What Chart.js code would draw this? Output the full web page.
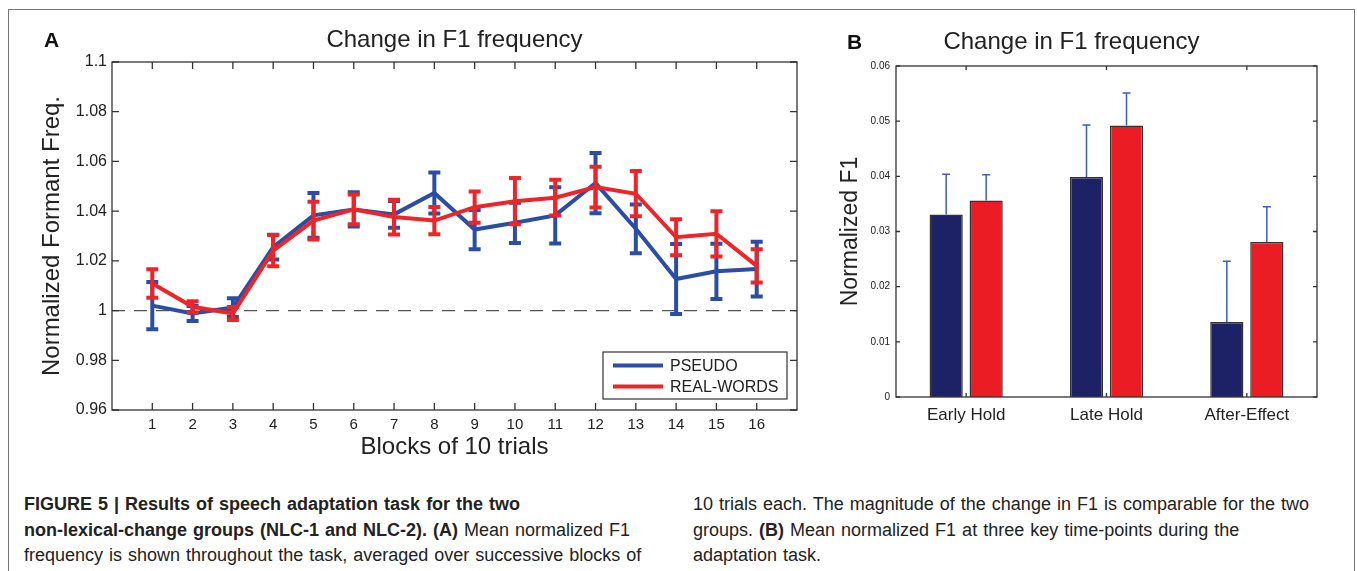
<!DOCTYPE html>
<html>
<head>
<meta charset="utf-8">
<script src="https://cdn.jsdelivr.net/npm/chart.js@4.4.0/dist/chart.umd.min.js"></script>
<style>
  body { margin: 0; background: #fff; width: 1357px; height: 571px; overflow: hidden; position: relative; font-family: "Liberation Sans", Arial, sans-serif; }
  #frame { position: absolute; left: 8px; top: 9px; width: 1347px; height: 620px; border: 1.5px solid #777; box-sizing: border-box; }
  #wrapA { position: absolute; left: 0; top: 0; width: 830px; height: 480px; }
  #wrapB { position: absolute; left: 826px; top: 0; width: 531px; height: 480px; }
  .panel { position: absolute; font-weight: bold; font-size: 21px; color: #111; }
  .cap { position: absolute; top: 492px; font-size: 18px; line-height: 25.5px; color: #222; white-space: nowrap; word-spacing: 1px; }
</style>
</head>
<body>
<div id="frame"></div>
<div id="wrapA"><canvas id="chartA"></canvas></div>
<div id="wrapB"><canvas id="chartB"></canvas></div>
<div class="panel" style="left:44px;top:28px">A</div>
<div class="panel" style="left:847px;top:30px">B</div>
<div class="cap" style="left:24px"><b>FIGURE 5 | Results of speech adaptation task for the two</b><br><b>non-lexical-change groups (NLC-1 and NLC-2). (A)</b> Mean normalized F1<br>frequency is shown throughout the task, averaged over successive blocks of</div>
<div class="cap" style="left:693px">10 trials each. The magnitude of the change in F1 is comparable for the two<br>groups. <b>(B)</b> Mean normalized F1 at three key time-points during the<br>adaptation task.</div>
<script>
// panel A: blocks of 10 trials
const blocks = [1, 2, 3, 4, 5, 6, 7, 8, 9, 10, 11, 12, 13, 14, 15, 16]
const pseudoMean = [1.002, 0.9988, 1.0012, 1.0255, 1.0383, 1.0407, 1.0387, 1.0473, 1.0326, 1.0353, 1.0383, 1.0513, 1.0329, 1.0127, 1.0158, 1.0167]
const pseudoErr = [0.0095, 0.003, 0.0038, 0.005, 0.009, 0.0069, 0.0054, 0.0082, 0.0079, 0.0081, 0.0113, 0.0121, 0.0098, 0.0141, 0.0111, 0.011]
const realMean = [1.0109, 1.0015, 0.9988, 1.0241, 1.0362, 1.0407, 1.0376, 1.0362, 1.0416, 1.044, 1.0454, 1.0497, 1.047, 1.0295, 1.0309, 1.018]
const realErr = [0.0057, 0.0023, 0.0026, 0.0063, 0.0076, 0.006, 0.007, 0.0055, 0.0063, 0.0093, 0.0072, 0.0082, 0.0091, 0.0072, 0.0091, 0.0067]
const yTicksA = [0.96, 0.98, 1, 1.02, 1.04, 1.06, 1.08, 1.1]
const baseline = 1

// panel B: three time points
const phases = ['Early Hold', 'Late Hold', 'After-Effect']
const pseudoF1 = [0.0331, 0.0399, 0.0136]
const pseudoF1Err = [0.0073, 0.0094, 0.011]
const realF1 = [0.0356, 0.0492, 0.0281]
const realF1Err = [0.0047, 0.0059, 0.0064]
const yTicksB = [0, 0.01, 0.02, 0.03, 0.04, 0.05, 0.06]

const BLUE = '#2b4ea5'
const RED = '#ee2429'
const FONT = '"Liberation Sans", Arial, sans-serif'

const pts = (vals) => vals.map((v, i) => ({x: blocks[i], y: v}))

// matlab style error bars
const errBars = {
    id: 'errBars',
    afterDatasetDraw(chart, args) {
        const ds = chart.data.datasets[args.index]
        if (!ds.err) return
        const ctx = chart.ctx
        const y = chart.scales.y
        ctx.save()
        ctx.strokeStyle = ds.errColor || ds.borderColor
        ctx.lineWidth = ds.errWidth
        ctx.lineCap = 'butt'
        args.meta.data.forEach((el, i) => {
            const v = typeof ds.data[i] === 'object' ? ds.data[i].y : ds.data[i]
            const top = y.getPixelForValue(v + ds.err[i])
            const bot = ds.upOnly ? y.getPixelForValue(v) : y.getPixelForValue(v - ds.err[i])
            const c = ds.capW / 2
            ctx.beginPath()
            ctx.moveTo(el.x, top); ctx.lineTo(el.x, bot)
            ctx.moveTo(el.x - c, top); ctx.lineTo(el.x + c, top)
            if (!ds.upOnly) { ctx.moveTo(el.x - c, bot); ctx.lineTo(el.x + c, bot) }
            ctx.stroke()
        })
        ctx.restore()
    }
}

// box round the axes with ticks pointing inwards
const boxTicks = {
    id: 'boxTicks',
    afterDraw(chart, args, opts) {
        const {ctx, chartArea: a, scales: {x, y}} = chart
        const len = opts.len || 6
        ctx.save()
        ctx.strokeStyle = '#333'
        ctx.lineWidth = 1.3
        ctx.strokeRect(a.left, a.top, a.right - a.left, a.bottom - a.top)
        ctx.beginPath()
        y.ticks.forEach((t) => {
            const py = y.getPixelForValue(t.value)
            ctx.moveTo(a.left, py); ctx.lineTo(a.left + len, py)
            ctx.moveTo(a.right, py); ctx.lineTo(a.right - len, py)
        })
        x.ticks.forEach((t, i) => {
            const px = x.getPixelForTick(i)
            ctx.moveTo(px, a.bottom); ctx.lineTo(px, a.bottom - len)
            ctx.moveTo(px, a.top); ctx.lineTo(px, a.top + len)
        })
        ctx.stroke()
        ctx.restore()
    }
}

const boxLegend = {
    id: 'boxLegend',
    afterDraw(chart) {
        const {ctx, chartArea: a} = chart
        const w = 184, h = 47
        const left = a.right - 10 - w, top = a.bottom - 11 - h
        const items = [chart.data.datasets[1], chart.data.datasets[0]]
        ctx.save()
        ctx.fillStyle = '#fff'
        ctx.fillRect(left, top, w, h)
        ctx.strokeStyle = '#333'
        ctx.lineWidth = 1.2
        ctx.strokeRect(left, top, w, h)
        ctx.font = '16px ' + FONT
        ctx.textBaseline = 'middle'
        items.forEach((ds, i) => {
            const yy = top + 13.5 + i * 21
            ctx.strokeStyle = ds.borderColor
            ctx.lineWidth = 4
            ctx.beginPath(); ctx.moveTo(left + 10, yy); ctx.lineTo(left + 60, yy); ctx.stroke()
            ctx.fillStyle = '#222'
            ctx.fillText(ds.label, left + 67, yy + 1)
        })
        ctx.restore()
    }
}

new Chart(document.getElementById('chartA'), {
    type: 'line',
    data: {
        datasets: [
            {label: 'REAL-WORDS', data: pts(realMean), err: realErr, errWidth: 4, capW: 12, borderColor: RED, borderWidth: 4, pointRadius: 0, tension: 0, order: 1},
            {label: 'PSEUDO', data: pts(pseudoMean), err: pseudoErr, errWidth: 4, capW: 12, borderColor: BLUE, borderWidth: 4, pointRadius: 0, tension: 0, order: 2},
            {label: 'base', data: [{x: 0, y: baseline}, {x: 17, y: baseline}], borderColor: '#555', borderWidth: 1.3, borderDash: [13, 9], pointRadius: 0, order: 3}
        ]
    },
    options: {
        responsive: true,
        maintainAspectRatio: false,
        animation: false,
        layout: {padding: {left: 0, right: 33, top: 0, bottom: 0}},
        plugins: {
            legend: {display: false},
            tooltip: {enabled: false},
            title: {display: true, text: 'Change in F1 frequency', fullSize: false, color: '#222', font: {family: FONT, size: 24, weight: 'normal'}, padding: {top: 25.6, bottom: 7.6}},
            boxTicks: {len: 7}
        },
        scales: {
            x: {
                type: 'linear', min: 0, max: 17,
                grid: {display: false, drawTicks: false}, border: {display: false},
                afterBuildTicks: (s) => { s.ticks = blocks.map((v) => ({value: v})) },
                afterFit: (s) => { s.height = 70 },
                ticks: {padding: 6, color: '#222', font: {family: FONT, size: 15}, maxRotation: 0, autoSkip: false, callback: (v) => String(v)},
                title: {display: true, text: 'Blocks of 10 trials', color: '#222', font: {family: FONT, size: 24}, padding: {top: 0, bottom: 18.6}}
            },
            y: {
                min: 0.96, max: 1.1,
                grid: {display: false, drawTicks: false}, border: {display: false},
                afterBuildTicks: (s) => { s.ticks = yTicksA.map((v) => ({value: v})) },
                afterFit: (s) => { s.width = 112 },
                ticks: {padding: 5, color: '#222', font: {family: FONT, size: 16}, callback: (v) => String(v)},
                title: {display: true, text: 'Normalized Formant Freq.', color: '#222', font: {family: FONT, size: 24}, padding: {top: 37.6, bottom: 0}}
            }
        }
    },
    plugins: [errBars, boxTicks, boxLegend]
})

new Chart(document.getElementById('chartB'), {
    type: 'bar',
    data: {
        labels: phases,
        datasets: [
            {label: 'PSEUDO', data: pseudoF1, err: pseudoF1Err, upOnly: true, errColor: '#3d5cc6', errWidth: 1.5, capW: 8, backgroundColor: '#1d2266', borderColor: '#333', borderWidth: 1.5},
            {label: 'REAL-WORDS', data: realF1, err: realF1Err, upOnly: true, errColor: '#3d5cc6', errWidth: 1.5, capW: 8, backgroundColor: '#ec1c24', borderColor: '#333', borderWidth: 1.5}
        ]
    },
    options: {
        responsive: true,
        maintainAspectRatio: false,
        animation: false,
        categoryPercentage: 0.57,
        barPercentage: 0.83,
        layout: {padding: {left: 0, right: 40, top: 0, bottom: 0}},
        plugins: {
            legend: {display: false},
            tooltip: {enabled: false},
            title: {display: true, text: 'Change in F1 frequency', color: '#222', font: {family: FONT, size: 24, weight: 'normal'}, padding: {top: 27.6, bottom: 9.6}},
            boxTicks: {len: 4}
        },
        scales: {
            x: {
                grid: {display: false, drawTicks: false}, border: {display: false},
                afterFit: (s) => { s.height = 83 },
                ticks: {padding: 7.8, color: '#222', font: {family: FONT, size: 17}, maxRotation: 0}
            },
            y: {
                min: 0, max: 0.06,
                grid: {display: false, drawTicks: false}, border: {display: false},
                afterBuildTicks: (s) => { s.ticks = yTicksB.map((v) => ({value: v})) },
                afterFit: (s) => { s.width = 70 },
                ticks: {padding: 6, color: '#222', font: {family: FONT, size: 10}, callback: (v) => String(v)},
                title: {display: true, text: 'Normalized F1', color: '#222', font: {family: FONT, size: 23}, padding: {top: 11.2, bottom: 0}}
            }
        }
    },
    plugins: [errBars, boxTicks]
})
</script>
</body>
</html>
